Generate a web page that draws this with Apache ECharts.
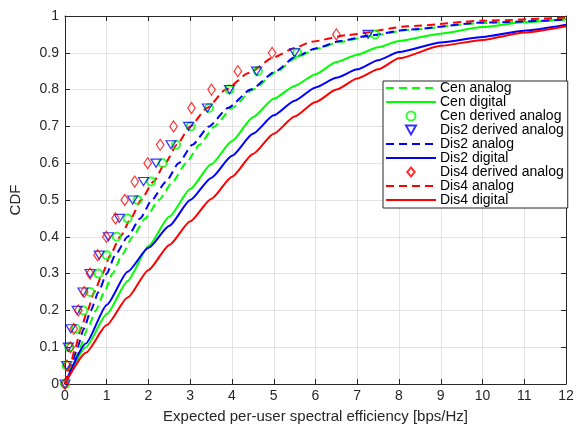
<!DOCTYPE html>
<html><head><meta charset="utf-8">
<script src="https://cdn.jsdelivr.net/npm/echarts@6/dist/echarts.min.js"></script>
<style>html,body{margin:0;padding:0;background:#fff}#c{width:580px;height:429px}</style>
</head><body><div id="c"></div>
<script>
// ---- data ----
const xTickValues = [0,1,2,3,4,5,6,7,8,9,10,11,12];
const yTickValues = [0,0.1,0.2,0.3,0.4,0.5,0.6,0.7,0.8,0.9,1];

const derivedLevels = [0,0.05,0.1,0.15,0.2,0.25,0.3,0.35,0.4,0.45,0.5,0.55,0.6,0.65,0.7,0.75,0.8,0.85,0.9,0.95];
const cenDerivedX  = [0,0.04,0.1,0.26,0.44,0.6,0.8,1.0,1.24,1.5,1.74,2.06,2.34,2.66,3.01,3.45,3.94,4.62,5.56,7.43];
const dis2DerivedX = [0,0.04,0.08,0.14,0.29,0.43,0.6,0.82,1.04,1.3,1.62,1.88,2.18,2.54,2.96,3.41,3.94,4.59,5.5,7.26];
const dis4DerivedX = [0,0.05,0.13,0.21,0.32,0.46,0.6,0.78,0.99,1.21,1.43,1.67,1.98,2.28,2.6,3.03,3.51,4.14,4.96,6.5];

const cenAnalogX  = [0,0.2,0.36,0.54,0.74,0.94,1.14,1.36,1.62,1.92,2.25,2.58,2.9,3.22,3.58,4.0,4.5,5.08,5.52,6.0,6.6,7.3,8.2,10,12];
const cenAnalogY  = [0,0.05,0.1,0.15,0.2,0.25,0.3,0.35,0.4,0.45,0.5,0.55,0.6,0.65,0.7,0.75,0.8,0.85,0.885,0.91,0.93,0.945,0.962,0.981,0.99];
const dis2AnalogX = [0,0.15,0.3,0.45,0.62,0.8,1.0,1.2,1.5,1.8,2.08,2.42,2.72,3.05,3.45,3.9,4.45,5.05,5.5,6.0,6.6,7.3,8.2,10,12];
const dis2AnalogY = [0,0.05,0.1,0.15,0.2,0.25,0.3,0.35,0.4,0.45,0.5,0.55,0.6,0.65,0.7,0.75,0.8,0.85,0.888,0.912,0.932,0.947,0.963,0.982,0.99];
const dis4AnalogX = [0,0.12,0.25,0.38,0.54,0.7,0.9,1.08,1.32,1.58,1.82,2.12,2.4,2.68,3.0,3.4,3.85,4.4,5.0,5.5,5.9,6.76,8.2,10,12];
const dis4AnalogY = [0,0.05,0.1,0.15,0.2,0.25,0.3,0.35,0.4,0.45,0.5,0.55,0.6,0.65,0.7,0.75,0.8,0.845,0.888,0.913,0.93,0.948,0.972,0.987,0.996];

const digitalX      = [0,0.5,1,1.5,2,2.5,3,3.5,4,4.5,5,5.5,6,6.5,7,7.5,8,9,10,11,12];
const cenDigitalY   = [0,0.1,0.19,0.28,0.375,0.455,0.53,0.597,0.66,0.725,0.775,0.81,0.842,0.875,0.895,0.915,0.932,0.952,0.97,0.983,0.992];
const dis2DigitalY  = [0,0.11,0.215,0.305,0.37,0.43,0.5,0.56,0.62,0.68,0.73,0.77,0.806,0.832,0.855,0.88,0.902,0.928,0.943,0.96,0.976];
const dis4DigitalY  = [0,0.085,0.16,0.235,0.31,0.378,0.442,0.503,0.563,0.625,0.68,0.727,0.766,0.8,0.83,0.855,0.885,0.919,0.935,0.955,0.972];

// ---- chart ----
const FONT = "'Liberation Sans', Arial, Helvetica, sans-serif";
const GREEN = '#00ff00', BLUE = '#0000ff', RED = '#ff0000';
const zip = (xs, ys) => xs.map((x, i) => [x, ys[i]]);
const TRI_DOWN = 'path://M0,0 L10,0 L5,9 Z';
const DIAMOND = 'path://M5,0 L10,6 L5,12 L0,6 Z';

function lineSeries(name, xs, ys, color, dashed) {
  return {
    name, type: 'line', data: zip(xs, ys), showSymbol: false, symbol: 'none',
    smooth: 0.2, smoothMonotone: 'x',
    lineStyle: { color, width: 2, type: dashed ? [8, 5] : 'solid' },
    itemStyle: { color }
  };
}
function markerSeries(name, xs, symbol, size, color, bw) {
  return {
    name, type: 'scatter', data: zip(xs, derivedLevels), symbol, symbolSize: size,
    symbolKeepAspect: true,
    itemStyle: { color: 'rgba(0,0,0,0)', borderColor: color, borderWidth: bw }, z: 3
  };
}

const series = [
  lineSeries('Cen analog', cenAnalogX, cenAnalogY, GREEN, true),
  lineSeries('Cen digital', digitalX, cenDigitalY, GREEN, false),
  markerSeries('Cen derived analog', cenDerivedX, 'circle', 8, GREEN, 2),
  markerSeries('Dis2 derived analog', dis2DerivedX, TRI_DOWN, [10, 9], BLUE, 1.2),
  lineSeries('Dis2 analog', dis2AnalogX, dis2AnalogY, BLUE, true),
  lineSeries('Dis2 digital', digitalX, dis2DigitalY, BLUE, false),
  markerSeries('Dis4 derived analog', dis4DerivedX, DIAMOND, [9, 11], RED, 1.2),
  lineSeries('Dis4 analog', dis4AnalogX, dis4AnalogY, RED, true),
  lineSeries('Dis4 digital', digitalX, dis4DigitalY, RED, false)
];

const legendData = series.map(s => s.type === 'line'
  ? { name: s.name, itemStyle: { opacity: 0, borderWidth: 0 } }
  : { name: s.name });

const axisColor = '#262626';
const gridColor = '#e3e3e3';
const chart = echarts.init(document.getElementById('c'), null, { renderer: 'canvas' });
chart.setOption({
  animation: false,
  backgroundColor: '#fff',
  textStyle: { fontFamily: FONT },
  grid: { left: 64, top: 16, right: 14, bottom: 36, containLabel: false },
  xAxis: [{
    type: 'value', min: xTickValues[0], max: xTickValues[xTickValues.length - 1], interval: 1,
    position: 'bottom',
    axisLine: { show: true, lineStyle: { color: axisColor, width: 1 } },
    axisTick: { show: true, inside: true, length: 5, lineStyle: { color: axisColor } },
    axisLabel: { fontSize: 14, color: axisColor, margin: 5, fontFamily: FONT },
    splitLine: { show: true, lineStyle: { color: gridColor, width: 1 } },
    name: 'Expected per-user spectral efficiency [bps/Hz]', nameLocation: 'middle', nameGap: 25,
    nameTextStyle: { fontSize: 15, color: axisColor, fontFamily: FONT }
  }, {
    type: 'value', min: xTickValues[0], max: xTickValues[xTickValues.length - 1], interval: 1,
    position: 'top',
    axisLine: { show: true, onZero: false, lineStyle: { color: axisColor, width: 1 } },
    axisTick: { show: true, inside: true, length: 5, lineStyle: { color: axisColor } },
    axisLabel: { show: false }, splitLine: { show: false }
  }],
  yAxis: [{
    type: 'value', min: yTickValues[0], max: yTickValues[yTickValues.length - 1], interval: 0.1,
    position: 'left',
    axisLine: { show: true, lineStyle: { color: axisColor, width: 1 } },
    axisTick: { show: true, inside: true, length: 5, lineStyle: { color: axisColor } },
    axisLabel: { fontSize: 14, color: axisColor, margin: 6, fontFamily: FONT,
      formatter: v => String(Math.round(v * 10) / 10) },
    splitLine: { show: true, lineStyle: { color: gridColor, width: 1 } },
    name: 'CDF', nameLocation: 'middle', nameGap: 42,
    nameTextStyle: { fontSize: 15, color: axisColor, fontFamily: FONT }
  }, {
    type: 'value', min: yTickValues[0], max: yTickValues[yTickValues.length - 1], interval: 0.1,
    position: 'right',
    axisLine: { show: true, onZero: false, lineStyle: { color: axisColor, width: 1 } },
    axisTick: { show: true, inside: true, length: 5, lineStyle: { color: axisColor } },
    axisLabel: { show: false }, splitLine: { show: false }
  }],
  legend: {
    orient: 'vertical', left: 383, top: 81,
    padding: [0, 4, 1, 2], itemGap: 0, itemWidth: 50, itemHeight: 9,
    symbolKeepAspect: true,
    backgroundColor: '#fff', borderColor: axisColor, borderWidth: 1, borderRadius: 0,
    textStyle: { fontSize: 14, color: '#000', fontFamily: FONT, lineHeight: 13.1, padding: [0, 0, 0, -1] },
    data: legendData
  },
  series
});
</script>
</body></html>
